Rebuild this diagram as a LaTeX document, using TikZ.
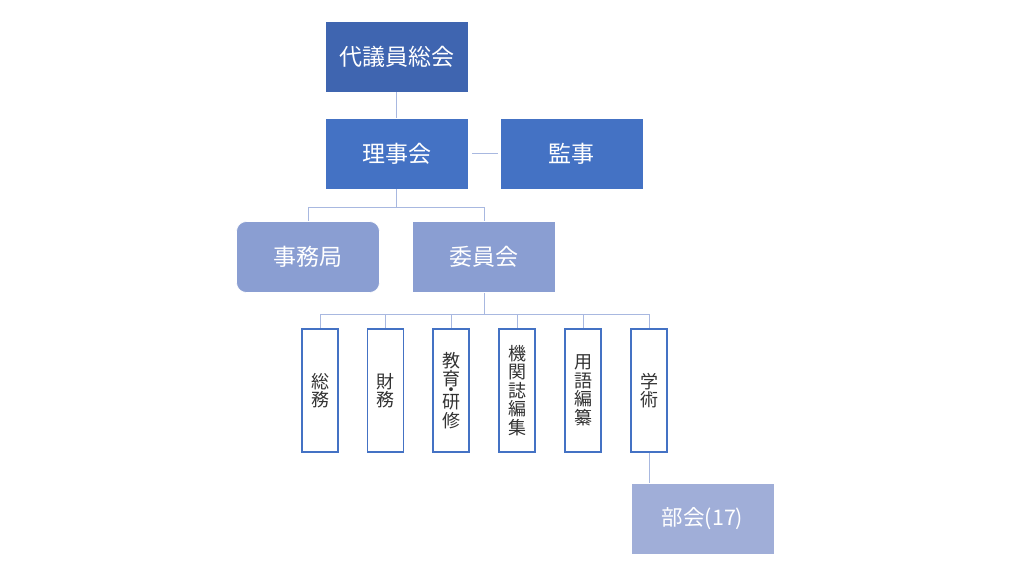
\documentclass[tikz,border=0pt]{standalone}
\usepackage{fontspec}
\setmainfont{Noto Sans CJK JP}
\usetikzlibrary{positioning}
\definecolor{topblue}{HTML}{3F65B0}
\definecolor{midblue}{HTML}{4472C4}
\definecolor{paleblue}{HTML}{8A9ED2}
\definecolor{lightblue}{HTML}{A0AED8}
\definecolor{wireblue}{HTML}{A8B8E0}
\tikzset{
  bigbox/.style={fill=#1, draw=white, line width=0.6pt, text=white, minimum width=143pt, minimum height=71pt, inner sep=0pt, font=\fontsize{23}{26}\selectfont},
  tallbox/.style={fill=white, draw=midblue, line width=1.6pt, minimum width=36pt, minimum height=123pt, inner sep=0pt, align=center, text=black!80, font=\fontsize{18}{18.5}\selectfont},
  wire/.style={draw=wireblue, line width=1pt}
}
\begin{document}
\begin{tikzpicture}[x=1pt, y=-1pt]
\useasboundingbox (0,0) rectangle (1024,576);
\node[bigbox=topblue] (gm) at (396.5,56.5) {代議員総会};
\node[bigbox=midblue] (board) at (396.5,153.5) {理事会};
\node[bigbox=midblue] (audit) at (571.5,153.5) {監事};
\node[bigbox=paleblue, rounded corners=10pt] (office) at (308,257) {事務局};
\node[bigbox=paleblue] (comm) at (484,257) {委員会};
\foreach \x/\name/\txt in {320/soumu/{総\\務}, 385.5/zaimu/{財\\務}, 451/kyouiku/{教\\育\\[-8pt]・\\[-6pt]研\\修}, 517/kikanshi/{機\\関\\誌\\編\\集}, 583/yougo/{用\\語\\編\\纂}, 649/gakujutsu/{学\\術}}
  \node[tallbox] (\name) at (\x,390.5) {\txt};
\node[bigbox=lightblue, font=\fontsize{21.5}{24}\selectfont] (sect) at (702.5,518.5) {部会(17)};
% connectors
\draw[wire] (gm) -- (board);
\draw[wire, shorten <=4pt, shorten >=2pt] (board) -- (audit);
\coordinate (fork1) at (396.5,207);
\draw[wire] (board) -- (fork1) -| (office);
\draw[wire] (fork1) -| (comm);
\coordinate (fork2) at (484,314);
\draw[wire] (comm) -- (fork2);
\foreach \name in {soumu, zaimu, kyouiku, kikanshi, yougo, gakujutsu}
  \draw[wire] (fork2) -| (\name);
\draw[wire] (gakujutsu) -- (gakujutsu |- sect.north);
\end{tikzpicture}
\end{document}
